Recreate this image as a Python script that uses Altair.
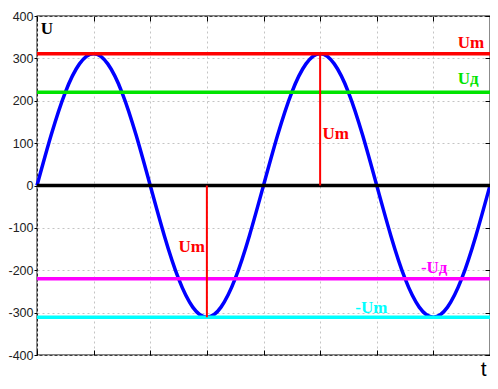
import altair as alt
import pandas as pd

# sine curve samples
t_values = [0, 0.25, 0.5, 0.75, 1, 1.25, 1.5, 1.75, 2, 2.25, 2.5, 2.75, 3, 3.25, 3.5, 3.75,
            4, 4.25, 4.5, 4.75, 5, 5.25, 5.5, 5.75, 6, 6.25, 6.5, 6.75, 7, 7.25, 7.5, 7.75, 8]
u_values = [0, 119, 220, 287, 311, 287, 220, 119, 0, -119, -220, -287, -311, -287, -220, -119,
            0, 119, 220, 287, 311, 287, 220, 119, 0, -119, -220, -287, -311, -287, -220, -119, 0]

# horizontal levels
level_names = ["Um", "Ud", "zero", "-Ud", "-Um"]
level_values = [311, 220, 0, -220, -311]
level_colors = ["#ff0000", "#00e400", "#000000", "#ff00ff", "#00ffff"]

# vertical amplitude markers
vert_t = [5, 3]
vert_u = [311, -311]

# labels
label_texts = ["Um", "Uд", "Um", "Um", "-Uд", "-Um"]
label_t = [7.43, 7.43, 5.04, 2.50, 6.78, 5.62]
label_u = [325, 239, 109, -158, -207, -302]
label_colors = ["#ff0000", "#00e400", "#ff0000", "#ff0000", "#ff00ff", "#00ffff"]

x_ticks = [0, 1, 2, 3, 4, 5, 6, 7, 8]
y_ticks = [-400, -300, -200, -100, 0, 100, 200, 300, 400]

sine_df = pd.DataFrame({"t": t_values, "u": u_values})
level_df = pd.DataFrame({"name": level_names, "u": level_values, "c": level_colors})
vert_df = pd.DataFrame({"t": vert_t, "u0": [0, 0], "u1": vert_u})
label_df = pd.DataFrame({"t": label_t, "u": label_u, "txt": label_texts, "c": label_colors})
ulabel_df = pd.DataFrame({"t": [0.065], "u": [358], "txt": ["U"]})

xs = alt.Scale(domain=[0, 8], nice=False, zero=False)
ys = alt.Scale(domain=[-400, 400], nice=False)

grid_kw = dict(grid=True, gridDash=[2, 3], gridColor="#c4c4c4", gridWidth=1)

bottom_axis = alt.Axis(orient="bottom", values=x_ticks, tickSize=5, offset=-5, labels=False,
                       domain=False, tickColor="#000", tickWidth=1,
                       title="t", titleFont="Liberation Sans", titleFontSize=21,
                       titleFontWeight="normal", titleColor="#000", titleX=449, titleY=25,
                       titleAlign="right", titleBaseline="alphabetic", **grid_kw)
left_axis = alt.Axis(orient="left", values=y_ticks, tickSize=3, labelPadding=1,
                     labelFont="Liberation Sans", labelFontSize=12.5, labelColor="#222",
                     labelExpr="datum.value + ''", domain=False, tickColor="#000",
                     title=None, **grid_kw)
top_axis = alt.Axis(orient="top", values=x_ticks, tickSize=5, offset=-5, labels=False,
                    domain=False, grid=False, tickColor="#000", title=None)
right_axis = alt.Axis(orient="right", values=y_ticks, tickSize=5, offset=-5, labels=False,
                      domain=False, grid=False, tickColor="#000", title=None)

sine = alt.Chart(sine_df).mark_line(color="#0000ff", strokeWidth=3.5, interpolate="natural").encode(
    x=alt.X("t:Q", scale=xs, axis=bottom_axis),
    y=alt.Y("u:Q", scale=ys, axis=left_axis),
)

levels = alt.Chart(level_df).mark_rule(strokeWidth=3.5).encode(
    y=alt.Y("u:Q", scale=ys, axis=right_axis),
    color=alt.Color("c:N", scale=None),
)

verts = alt.Chart(vert_df).mark_rule(color="#ff0000", strokeWidth=2).encode(
    x=alt.X("t:Q", scale=xs, axis=top_axis),
    y=alt.Y("u0:Q", scale=ys, axis=None),
    y2="u1:Q",
)

labels = alt.Chart(label_df).mark_text(font="Liberation Serif", fontWeight="bold", fontSize=17,
                                       align="left", baseline="alphabetic").encode(
    x=alt.X("t:Q", scale=xs, axis=None),
    y=alt.Y("u:Q", scale=ys, axis=None),
    text="txt:N",
    color=alt.Color("c:N", scale=None),
)

ulabel = alt.Chart(ulabel_df).mark_text(font="Liberation Serif", fontWeight="bold", fontSize=17,
                                        align="left", baseline="alphabetic", color="#000").encode(
    x=alt.X("t:Q", scale=xs, axis=None),
    y=alt.Y("u:Q", scale=ys, axis=None),
    text="txt:N",
)

chart = alt.layer(sine, levels, verts, labels, ulabel).resolve_axis(
    x="independent", y="independent"
).properties(
    width=453, height=339,
    padding={"left": 29, "top": 8, "right": 0, "bottom": 26},
    autosize=alt.AutoSizeParams(type="none"),
    background="white",
).configure_view(stroke="#000", strokeWidth=1.3)

chart.save("out.html", embed_options={"renderer": "svg", "actions": False})
